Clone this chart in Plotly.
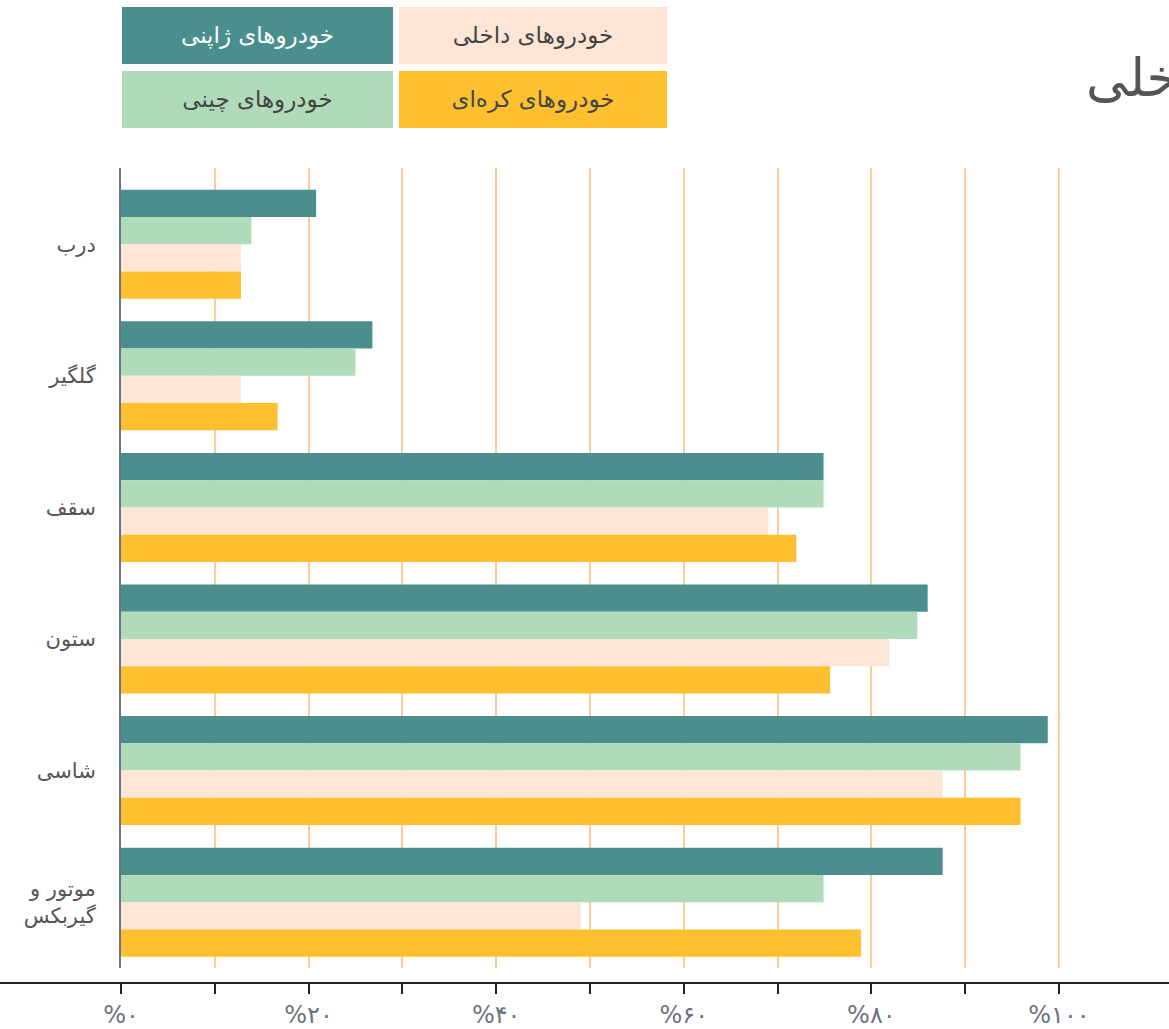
import plotly.graph_objects as go

# ---- data ----
categories = ["درب", "گلگیر", "سقف", "ستون", "شاسی", "موتور و<br>گیربکس"]
series_names = ["خودروهای ژاپنی", "خودروهای چینی", "خودروهای داخلی", "خودروهای کره‌ای"]
japanese = [20.8, 26.8, 74.9, 86.0, 98.8, 87.6]
chinese = [13.9, 25.0, 74.9, 84.9, 95.9, 74.9]
domestic = [12.8, 12.8, 69.0, 81.9, 87.6, 49.0]
korean = [12.8, 16.7, 72.0, 75.6, 95.9, 78.9]
tick_vals = [0, 10, 20, 30, 40, 50, 60, 70, 80, 90, 100]
tick_text = ["%۰", "", "%۲۰", "", "%۴۰", "", "%۶۰", "", "%۸۰", "", "%۱۰۰"]
title_text = "داخلی"

colors = ["#4a8f8e", "#b0dbbb", "#fee5d5", "#fec02f"]
legend_text_colors = ["#ffffff", "#444444", "#444444", "#444444"]

W, H = 1169, 1029
T, B = 168, 46
PLOT_BOTTOM = 968
AX_LEFT = 121
PX_PER_UNIT = 9.38
paper_h = H - T - B

def px_x(p):
    return p / W

def px_y(p):
    return (H - B - p) / paper_h

FONT = "DejaVu Sans, Noto Sans, sans-serif"

fig = go.Figure()
for name, vals, col in zip(series_names, [japanese, chinese, domestic, korean], colors):
    fig.add_trace(go.Bar(
        y=categories, x=vals, name=name, orientation="h",
        marker=dict(color=col, line=dict(width=0)),
        showlegend=False, hoverinfo="x+y",
    ))

# helper trace so the bottom free axis is rendered
fig.add_trace(go.Scatter(x=[None], y=[categories[0]], xaxis="x2", yaxis="y",
                         mode="markers", showlegend=False, hoverinfo="skip"))

x_max = (W - AX_LEFT) / PX_PER_UNIT
x2_min = -AX_LEFT / PX_PER_UNIT
slot_px = 131.6
plot_h = PLOT_BOTTOM - T
y_top = 5.5 - plot_h / slot_px

fig.update_layout(
    width=W, height=H,
    margin=dict(l=0, r=0, t=T, b=B, pad=0, autoexpand=False),
    paper_bgcolor="white", plot_bgcolor="rgba(0,0,0,0)",
    barmode="group", bargap=0.172, bargroupgap=0,
    font=dict(family=FONT, color="#555555"),
    xaxis=dict(
        domain=[AX_LEFT / W, 1], range=[0, x_max], automargin=False,
        tickvals=tick_vals[1:], showticklabels=False, ticks="",
        showgrid=True, gridcolor="#fecb98", gridwidth=2,
        zeroline=False, showline=False, fixedrange=True,
    ),
    xaxis2=dict(
        domain=[0, 1], range=[x2_min, x_max], anchor="free", position=0,
        side="bottom", automargin=False,
        tickvals=tick_vals, ticktext=tick_text,
        ticks="outside", ticklen=10, tickwidth=2, tickcolor="#222222",
        showline=True, linecolor="#222222", linewidth=2,
        showgrid=False, zeroline=False, ticklabelstandoff=0,
        tickfont=dict(size=24, color="#6b7280", family=FONT),
        fixedrange=True,
    ),
    yaxis=dict(
        domain=[(H - B - PLOT_BOTTOM) / paper_h, 1], automargin=False,
        categoryorder="array", categoryarray=categories,
        range=[5.5, y_top],
        showline=True, linecolor="#6b7280", linewidth=2,
        ticks="", ticklabelstandoff=19,
        tickfont=dict(size=21, color="#555555", family=FONT),
        showgrid=False, zeroline=False, fixedrange=True,
    ),
)

# legend boxes as annotations
boxes = [
    (122, 393, 7, 64),   # japanese
    (122, 393, 71, 128), # chinese
    (399, 667, 7, 64),   # domestic
    (399, 667, 71, 128), # korean
]
for name, col, tcol, (x0, x1, y0, y1) in zip(series_names, colors, legend_text_colors, boxes):
    fig.add_annotation(
        xref="paper", yref="paper",
        x=px_x((x0 + x1) / 2), y=px_y((y0 + y1) / 2),
        xanchor="center", yanchor="middle",
        text=name, showarrow=False,
        width=x1 - x0, height=y1 - y0,
        bgcolor=col, borderpad=0, borderwidth=0,
        font=dict(size=23, color=tcol, family=FONT),
    )

# title (partially outside the view)
fig.add_annotation(
    xref="paper", yref="paper",
    x=px_x(1084), y=px_y(78), xanchor="left", yanchor="middle",
    text=title_text, showarrow=False,
    font=dict(size=52, color="#555555", family=FONT),
)

fig.write_html("out.html", config={"displayModeBar": False},
               post_script="document.body.style.margin='0px';document.body.style.overflow='hidden';")
